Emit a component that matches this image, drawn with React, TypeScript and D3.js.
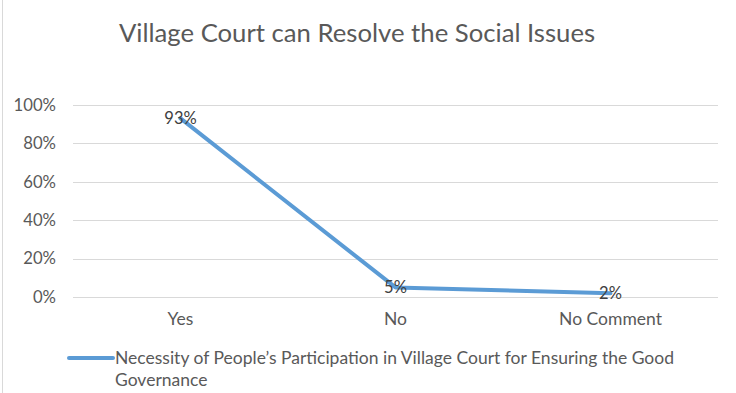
import React, { useEffect, useRef } from 'react';
import * as d3 from 'd3';

// chart data
const categories = ['Yes', 'No', 'No Comment'];
const values = [0.93, 0.05, 0.02];
const valueLabels = ['93%', '5%', '2%'];
const yTicks = [0, 0.2, 0.4, 0.6, 0.8, 1.0];
const title = 'Village Court can Resolve the Social Issues';
const seriesName = [
  'Necessity of People\u2019s Participation in Village Court for Ensuring the Good',
  'Governance',
];

const W = 736;
const H = 393;
const FONT = 'Lato, "Open Sans", sans-serif';
const TEXT = '#595959';
const BLUE = '#5B9BD5';

export default function App() {
  const svgRef = useRef<SVGSVGElement | null>(null);

  useEffect(() => {
    if (!svgRef.current) return;
    const svg = d3.select(svgRef.current);
    svg.selectAll('*').remove();

    const margin = { top: 105, right: 18, bottom: 96, left: 73 };
    const plotW = W - margin.left - margin.right;
    const plotH = H - margin.top - margin.bottom;

    svg.append('rect').attr('width', W).attr('height', H).attr('fill', '#fff');
    // outer chart border (left edge visible)
    svg.append('line')
      .attr('x1', 2.5).attr('x2', 2.5).attr('y1', 0).attr('y2', H)
      .attr('stroke', '#d9d9d9').attr('stroke-width', 1);

    svg.append('text')
      .attr('x', 357)
      .attr('y', 33)
      .attr('dy', '0.35em')
      .attr('text-anchor', 'middle')
      .attr('font-family', FONT)
      .attr('font-size', '25.7px')
      .attr('fill', TEXT)
      .text(title);

    const g = svg.append('g').attr('transform', `translate(${margin.left},${margin.top})`);

    const x = d3.scaleBand<string>().domain(categories).range([0, plotW]);
    const y = d3.scaleLinear().domain([0, 1]).range([plotH, 0]);

    // gridlines
    g.append('g')
      .selectAll('line')
      .data(yTicks)
      .enter()
      .append('line')
      .attr('x1', 0)
      .attr('x2', plotW)
      .attr('y1', (d) => Math.round(y(d)) + 0.5)
      .attr('y2', (d) => Math.round(y(d)) + 0.5)
      .attr('stroke', '#d9d9d9')
      .attr('stroke-width', 1);

    // y tick labels
    const yAxis = d3.axisLeft(y).tickValues(yTicks).tickFormat(d3.format('.0%')).tickSize(0).tickPadding(17);
    const ya = g.append('g').call(yAxis);
    ya.select('.domain').remove();
    ya.selectAll('text')
      .attr('font-family', FONT)
      .attr('font-size', '16.7px')
      .attr('fill', TEXT);

    // x tick labels
    const xAxis = d3.axisBottom(x).tickSize(0).tickPadding(16);
    const xa = g.append('g').attr('transform', `translate(0,${plotH})`).call(xAxis);
    xa.select('.domain').remove();
    xa.selectAll('text')
      .attr('font-family', FONT)
      .attr('font-size', '17.5px')
      .attr('fill', TEXT);

    const cx = (i: number) => (x(categories[i]) ?? 0) + x.bandwidth() / 2;

    const line = d3.line<number>()
      .x((_, i) => cx(i))
      .y((d) => y(d));

    g.append('path')
      .datum(values)
      .attr('fill', 'none')
      .attr('stroke', BLUE)
      .attr('stroke-width', 4)
      .attr('stroke-linecap', 'round')
      .attr('stroke-linejoin', 'round')
      .attr('d', line);

    // data labels
    g.append('g')
      .selectAll('text')
      .data(values)
      .enter()
      .append('text')
      .attr('x', (_, i) => cx(i))
      .attr('y', (d) => y(d))
      .attr('dy', '0.35em')
      .attr('text-anchor', 'middle')
      .attr('font-family', FONT)
      .attr('font-size', '16.5px')
      .attr('fill', '#404040')
      .text((_, i) => valueLabels[i]);

    // legend
    const lg = svg.append('g').attr('transform', 'translate(68,358)');
    lg.append('line')
      .attr('x1', 1).attr('x2', 45).attr('y1', 0).attr('y2', 0)
      .attr('stroke', BLUE).attr('stroke-width', 4).attr('stroke-linecap', 'round');
    const lt = lg.append('text')
      .attr('x', 47)
      .attr('y', 0)
      .attr('font-family', FONT)
      .attr('font-size', '17.5px')
      .attr('fill', TEXT);
    seriesName.forEach((s, i) => {
      lt.append('tspan')
        .attr('x', 47)
        .attr('dy', i === 0 ? '0.35em' : '22')
        .text(s);
    });
  }, []);

  return (
    <svg
      ref={svgRef}
      width={W}
      height={H}
      style={{ position: 'absolute', left: 0, top: 0, display: 'block' }}
    />
  );
}
